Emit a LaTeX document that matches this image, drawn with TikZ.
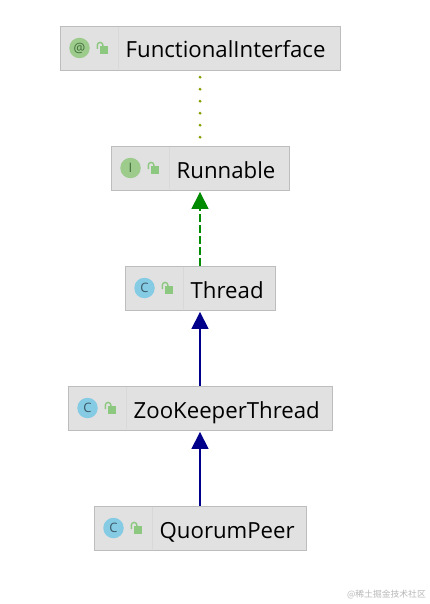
\documentclass[tikz,border=0pt]{standalone}
\usepackage{fontspec}
\setmainfont{Open Sans}
\newfontfamily\cjk{Noto Sans CJK SC}
\usetikzlibrary{arrows.meta}
\definecolor{boxfill}{HTML}{E1E1E1}
\definecolor{boxline}{HTML}{BDBDBD}
\definecolor{divline}{HTML}{D8D8D8}
\definecolor{lockgreen}{HTML}{8CC880}
\definecolor{ifacegreen}{HTML}{9CCB8C}
\definecolor{classblue}{HTML}{86CBE4}
\definecolor{icontext}{HTML}{3A5A68}
\definecolor{ifacetext}{HTML}{3F6B3A}
\definecolor{implgreen}{HTML}{008A00}
\definecolor{extblue}{HTML}{00008B}
\definecolor{dotolive}{HTML}{8A9E00}
\tikzset{
  x=1pt,y=-1pt,
  umlbox/.style={draw=boxline,fill=boxfill,line width=0.9pt,minimum height=44pt,inner sep=0pt,rectangle},
  label/.style={font=\fontsize{22.2}{26}\selectfont,text=black,anchor=base west,inner sep=0pt},
  iconc/.style={circle,minimum size=20.5pt,inner sep=0pt,fill=classblue,text=icontext,font=\fontsize{13}{13}\selectfont},
  iconi/.style={circle,minimum size=20.5pt,inner sep=0pt,fill=ifacegreen,text=ifacetext,font=\fontsize{13}{13}\selectfont},
  ext/.style={draw=extblue,line width=1.6pt,-{Triangle[length=17pt,width=17pt]},shorten >=1.5pt},
  impl/.style={draw=implgreen,line width=1.5pt,dash pattern=on 8pt off 3pt,-{Triangle[length=17pt,width=17pt,sep=0pt]},shorten >=1.5pt},
  dep/.style={draw=dotolive,line width=3.2pt,line cap=round,dash pattern=on 0pt off 12pt,dash phase=5.3pt},
}
% lock icon: #1 = x of left edge of the box, #2 = y of the top of the box
\newcommand{\lockicon}[2]{%
  \fill[lockgreen] (#1+40,#2+20) rectangle (#1+48,#2+28);
  \draw[lockgreen,line width=1.4pt] (#1+37.3,#2+23) -- (#1+37.3,#2+19.2) arc[start angle=180,end angle=0,radius=2.8pt] -- (#1+42.9,#2+20);
}
% umlclass: name, left, right, top, icon style, icon text, text
\newcommand{\umlclass}[7]{%
  \node[umlbox,minimum width=#3-#2] (#1) at ({(#2+#3)/2},#4+22) {};
  \draw[divline,line width=0.7pt] (#2+58,#4+1) -- (#2+58,#4+43);
  \node[#5] (#1icon) at (#2+19.5,#4+22) {#6};
  \lockicon{#2}{#4}
  \node[label] (#1text) at (#2+65.5,#4+32) {#7};
}
\begin{document}
\begin{tikzpicture}
\useasboundingbox[fill=white] (0,0) rectangle (429,604);
\umlclass{fi}{60}{340}{26}{iconi}{@}{FunctionalInterface}
\umlclass{run}{111}{289}{146}{iconi}{I}{Runnable}
\umlclass{thr}{125}{275}{266}{iconc}{C}{Thread}
\umlclass{zk}{68}{332}{386}{iconc}{C}{ZooKeeperThread}
\umlclass{qp}{94}{306}{506}{iconc}{C}{QuorumPeer}
\draw[dep] (fi.south -| 200,0) -- (run.north -| 200,0);
\draw[impl] (thr.north -| 200,0) -- (run.south -| 200,0);
\draw[ext] (zk.north -| 200,0) -- (thr.south -| 200,0);
\draw[ext] (qp.north -| 200,0) -- (zk.south -| 200,0);
\node[anchor=east,inner sep=0pt,text=black!28,font=\cjk\fontsize{8.8}{10}\selectfont] (wm) at (426,595) {@稀土掘金技术社区};
\end{tikzpicture}
\end{document}
